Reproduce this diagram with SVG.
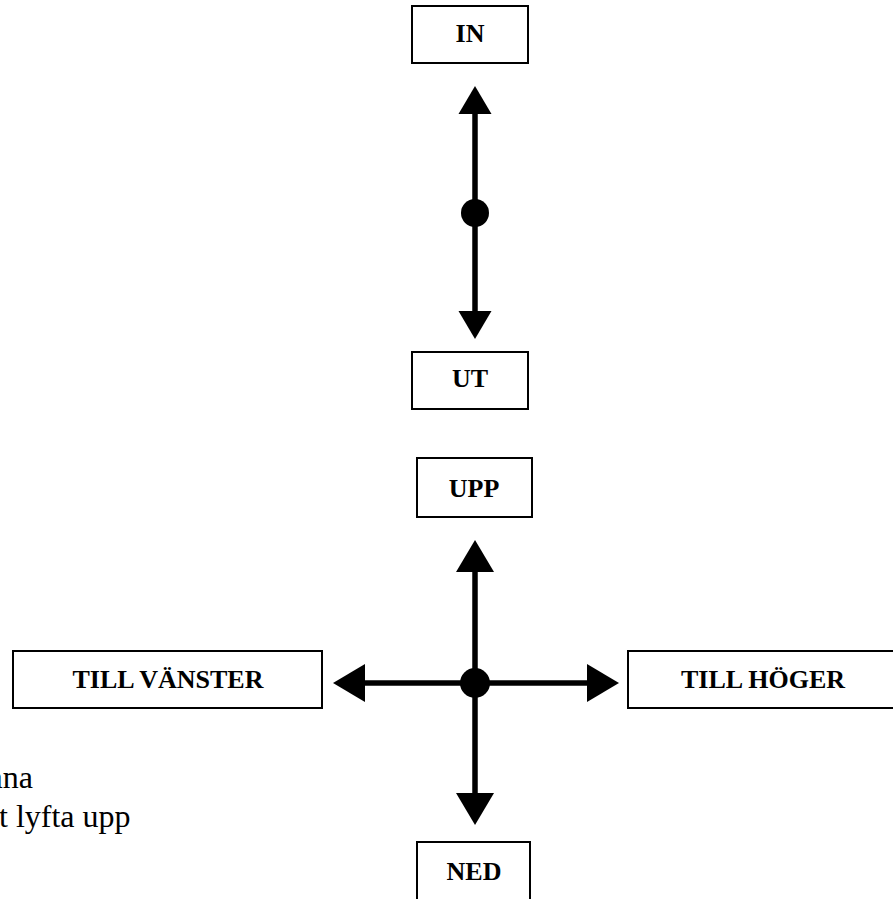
<svg xmlns="http://www.w3.org/2000/svg" width="893" height="899" viewBox="0 0 893 899">
<style>
.box{fill:#fff;stroke:#000;stroke-width:2}
.lbl{font-family:"Liberation Serif","Times New Roman",serif;font-weight:bold;font-size:26px;fill:#000;text-anchor:middle}
.body{font-family:"Liberation Serif","Times New Roman",serif;font-size:32px;fill:#000}
.ln{stroke:#000;stroke-width:5.5;fill:none}
.dot{fill:#000}
</style>
<defs>
<marker id="ahS" markerUnits="userSpaceOnUse" viewBox="0 -20 34 40" refX="0" refY="0" markerWidth="34" markerHeight="40" orient="auto-start-reverse">
<path d="M0,-16.5 L28,0 L0,16.5 Z" fill="#000"/>
</marker>
<marker id="ahL" markerUnits="userSpaceOnUse" viewBox="0 -22 38 44" refX="0" refY="0" markerWidth="38" markerHeight="44" orient="auto-start-reverse">
<path d="M0,-19 L32,0 L0,19 Z" fill="#000"/>
</marker>
</defs>
<rect width="893" height="899" fill="#fff"/>
<g id="connectors">
<line class="ln" x1="475" y1="114" x2="475" y2="311" marker-start="url(#ahS)" marker-end="url(#ahS)"/>
<circle class="dot" cx="475" cy="213" r="14"/>
<line class="ln" x1="475" y1="572" x2="475" y2="793" marker-start="url(#ahL)" marker-end="url(#ahL)"/>
<line class="ln" x1="365" y1="683" x2="587" y2="683" marker-start="url(#ahL)" marker-end="url(#ahL)"/>
<circle class="dot" cx="475" cy="683" r="15"/>
</g>
<g id="in"><rect class="box" x="412" y="6" width="116" height="57"/><text class="lbl" x="470" y="42">IN</text></g>
<g id="ut"><rect class="box" x="412" y="352" width="116" height="57"/><text class="lbl" x="470" y="387">UT</text></g>
<g id="upp"><rect class="box" x="417" y="458" width="115" height="59"/><text class="lbl" x="474" y="497">UPP</text></g>
<g id="vanster"><rect class="box" x="13" y="651" width="309" height="57"/><text class="lbl" x="168" y="688">TILL VÄNSTER</text></g>
<g id="hoger"><rect class="box" x="628" y="651" width="270" height="57"/><text class="lbl" x="763" y="688">TILL HÖGER</text></g>
<g id="ned"><rect class="box" x="417" y="842" width="113" height="70"/><text class="lbl" x="474" y="880">NED</text></g>
<g id="note">
<text class="body" x="33" y="788" text-anchor="end">ana</text>
<text class="body" x="-1" y="827">t lyfta upp</text>
</g>
</svg>
